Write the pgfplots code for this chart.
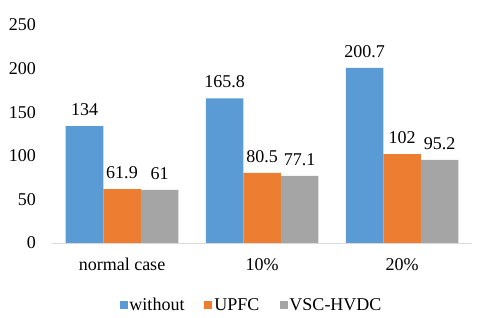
\documentclass[border=0pt]{standalone}
\usepackage{pgfplots}
\pgfplotsset{compat=1.18}
\usepackage{fontspec}
\setmainfont{Liberation Serif}
\definecolor{cblue}{HTML}{5B9BD5}
\definecolor{corange}{HTML}{ED7D31}
\definecolor{cgray}{HTML}{A5A5A5}
\definecolor{axgray}{HTML}{D9D9D9}
\begin{document}
\begin{tikzpicture}
\begin{axis}[
  at={(52bp,75bp)}, anchor=south west,
  scale only axis, width=420bp, height=218bp,
  /pgf/number format/assume math mode=true,
  font=\fontsize{18bp}{21bp}\selectfont,
  ybar=0pt, bar width=37.5bp,
  xmin=-0.5, xmax=2.5, ymin=0, ymax=250,
  xtick=data, xticklabels={normal case,10\%,20\%},
  ytick={0,50,100,150,200,250},
  axis x line*=bottom, axis y line*=left,
  x axis line style={draw=axgray, line width=0.8bp, -},
  y axis line style={draw=none},
  major tick length=0pt,
  yticklabel style={anchor=east, inner sep=0pt, xshift=-16bp},
  xticklabel style={anchor=north, inner sep=0pt, yshift=-15bp},
  nodes near coords={\pgfmathprintnumber[fixed,precision=1]{\pgfplotspointmeta}},
  every node near coord/.append style={anchor=south, inner sep=0pt, yshift=10bp, text=black},
  legend columns=3,
  legend style={draw=none, fill=none, at={(0.475,-0.285)}, anchor=center,
    /tikz/every even column/.append style={column sep=18bp},
    font=\fontsize{18bp}{21bp}\selectfont},
  legend image code/.code={\path[#1,draw=none] (0bp,-4bp) rectangle (8bp,4bp);},
]
\addplot[fill=cblue, draw=none] coordinates {(0,134) (1,165.8) (2,200.7)};
\addplot[fill=corange, draw=none] coordinates {(0,61.9) (1,80.5) (2,102)};
\addplot[fill=cgray, draw=none] coordinates {(0,61) (1,77.1) (2,95.2)};
\legend{without,UPFC,VSC-HVDC}
\end{axis}
\pgfresetboundingbox
\path[use as bounding box] (0,0) rectangle (480bp,318bp);
\end{tikzpicture}
\end{document}
